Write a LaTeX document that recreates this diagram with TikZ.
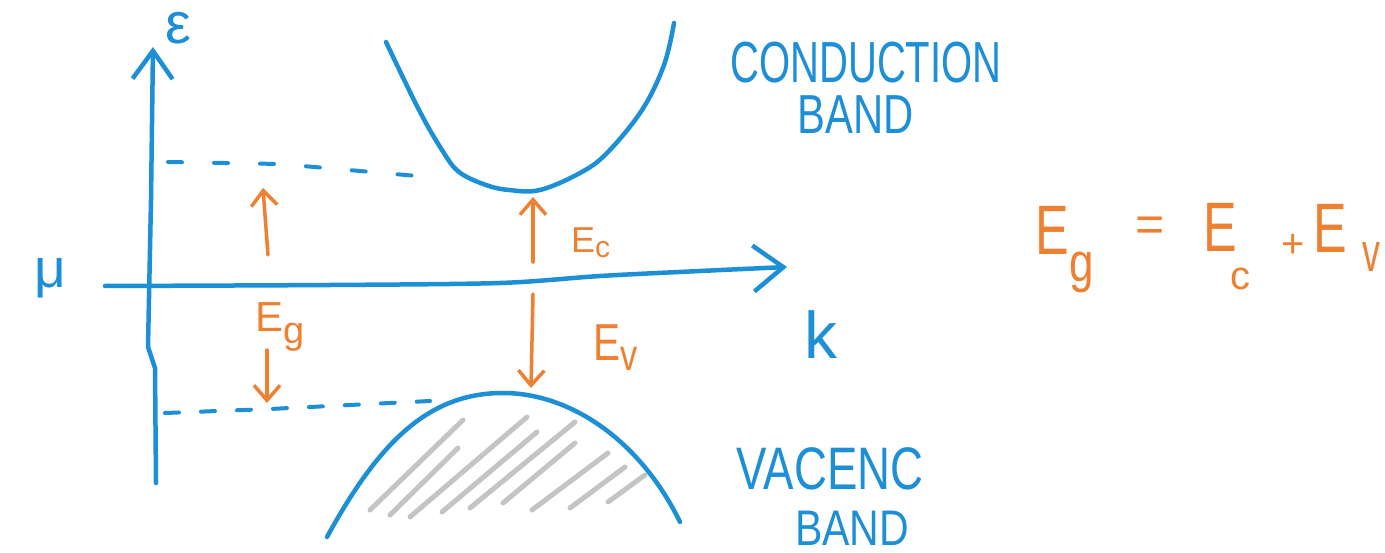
\documentclass[tikz,border=0pt]{standalone}
\usepackage{fontspec}
\setmainfont{Liberation Sans}
\usetikzlibrary{arrows.meta}
\definecolor{pblue}{RGB}{28,143,214}
\definecolor{porange}{RGB}{238,128,50}
\definecolor{phatch}{RGB}{196,196,196}
\newcommand\mylowsub[3]{\raisebox{-#2pt}{\fontsize{#1}{#1}\selectfont #3}}
\begin{document}
\begin{tikzpicture}[x=1pt,y=-1pt,line cap=round,line join=round,
  axisline/.style={draw=pblue,line width=4.5pt},
  bandline/.style={draw=pblue,line width=4.5pt},
  levelline/.style={draw=pblue,line width=4pt,dash pattern=on 14pt off 32pt},
  levelline2/.style={draw=pblue,line width=4pt,dash pattern=on 14pt off 22pt},
  gaparrow/.style={draw=porange,line width=3.5pt,-{Straight Barb[length=15pt,width=26pt]}},
  hatchline/.style={draw=phatch,line width=5pt},
  bluetxt/.style={text=pblue,inner sep=0pt,text depth=0pt},
  orangetxt/.style={text=porange,inner sep=0pt}]
\useasboundingbox (0,0) rectangle (1385,553);
\fill[white] (0,0) rectangle (1385,553);

% coordinates
\coordinate (ybot) at (156,483);
\coordinate (ytop) at (153,47);
\coordinate (xleft) at (105,286);
\coordinate (xright) at (787,267);

% axes
\draw[axisline,-{Straight Barb[length=28pt,width=40pt]}] (ybot) -- (155,368) -- (148,347) -- (151,200) -- (ytop);
\draw[axisline,-{Straight Barb[length=30pt,width=46pt]}] plot[smooth,tension=0.5] coordinates {(xleft) (330,285) (500,283) (600,276) (700,271) (xright)};

% hatching of valence band
\draw[hatchline] (370,510) -- (463,420);
\draw[hatchline] (390,515) -- (458,448);
\draw[hatchline] (410,517) -- (527,417);
\draw[hatchline] (442,512) -- (537,432);
\draw[hatchline] (470,508) -- (575,422);
\draw[hatchline] (503,503) -- (575,443);
\draw[hatchline] (532,510) -- (608,453);
\draw[hatchline] (570,508) -- (625,467);
\draw[hatchline] (608,502) -- (645,475);

% bands
\draw[bandline] plot[smooth,tension=0.6] coordinates {(386,42) (419,110) (442,150) (459,172) (486,185) (509,190) (540,190) (580,173) (607,153) (642,110) (664,65) (674,23)};
\draw[bandline] (327,537) .. controls (380,440) and (430,393) .. (503,393) .. controls (570,393) and (640,440) .. (680,522);

% dashed levels
\coordinate (cl1) at (168,162);
\coordinate (cl2) at (440,178);
\coordinate (vl1) at (165,413);
\coordinate (vl2) at (430,401);
\draw[levelline] (cl1) -- (280,164) -- (cl2);
\draw[levelline2] (vl1) -- (270,409) -- (vl2);

% orange arrows
\coordinate (lu1) at (268,255);
\coordinate (lu2) at (263,188);
\coordinate (ld1) at (267,350);
\coordinate (ld2) at (267,403);
\coordinate (mu1) at (533,262);
\coordinate (mu2) at (533,197);
\coordinate (md1) at (533,294);
\coordinate (md2) at (531,388);
\draw[gaparrow] (lu1) -- (lu2);
\draw[gaparrow] (ld1) -- (ld2);
\draw[gaparrow] (mu1) -- (mu2);
\draw[gaparrow] (md1) -- (md2);

% blue labels
\node[bluetxt,font=\fontsize{58}{58}\selectfont,anchor=base] (eps) at (178,44) {ε};
\node[bluetxt,font=\fontsize{55}{55}\selectfont,anchor=base] (mu) at (50,288) {μ};
\node[bluetxt,font=\fontsize{66}{66}\selectfont,anchor=base] (klab) at (821,359) {k};
\node[bluetxt,font=\fontsize{58}{58}\selectfont,anchor=base,xscale=0.69] (cond) at (866,83) {CONDUCTION};
\node[bluetxt,font=\fontsize{55}{55}\selectfont,anchor=base,xscale=0.76] (cband) at (856,134) {BAND};
\node[bluetxt,font=\fontsize{60}{60}\selectfont,anchor=base,xscale=0.76] (vac) at (830,489) {VACENC};
\node[bluetxt,font=\fontsize{50}{50}\selectfont,anchor=base,xscale=0.82] (vband) at (852,545) {BAND};

% orange labels
\node[orangetxt,font=\fontsize{42}{42}\selectfont,anchor=base west] (eglab) at (255,332) {E\mylowsub{38}{12}{g}};
\node[orangetxt,font=\fontsize{36}{36}\selectfont,anchor=base west] (eclab) at (571,253) {E\mylowsub{30}{5}{c}};
\node[orangetxt,font=\fontsize{52}{52}\selectfont,anchor=base west,xscale=0.78] (evlab) at (593,361) {E\mylowsub{44}{10}{v}};

% equation
\node[orangetxt,font=\fontsize{70}{70}\selectfont,anchor=base,xscale=0.72] (eqE1) at (1052,255) {E};
\node[orangetxt,font=\fontsize{55}{55}\selectfont,anchor=base,xscale=0.8] (eqg) at (1082,282) {g};
\node[orangetxt,font=\fontsize{50}{50}\selectfont] (eqeq) at (1150,229) {=};
\node[orangetxt,font=\fontsize{70}{70}\selectfont,anchor=base,xscale=0.72] (eqE2) at (1220,252) {E};
\node[orangetxt,font=\fontsize{40}{40}\selectfont,anchor=base] (eqc) at (1240,290) {c};
\node[orangetxt,font=\fontsize{40}{40}\selectfont] (eqplus) at (1293,246) {+};
\node[orangetxt,font=\fontsize{70}{70}\selectfont,anchor=base,xscale=0.72] (eqE3) at (1330,253) {E};
\node[orangetxt,font=\fontsize{55}{55}\selectfont,anchor=base,xscale=0.65] (eqv) at (1371,272) {v};
\end{tikzpicture}
\end{document}
